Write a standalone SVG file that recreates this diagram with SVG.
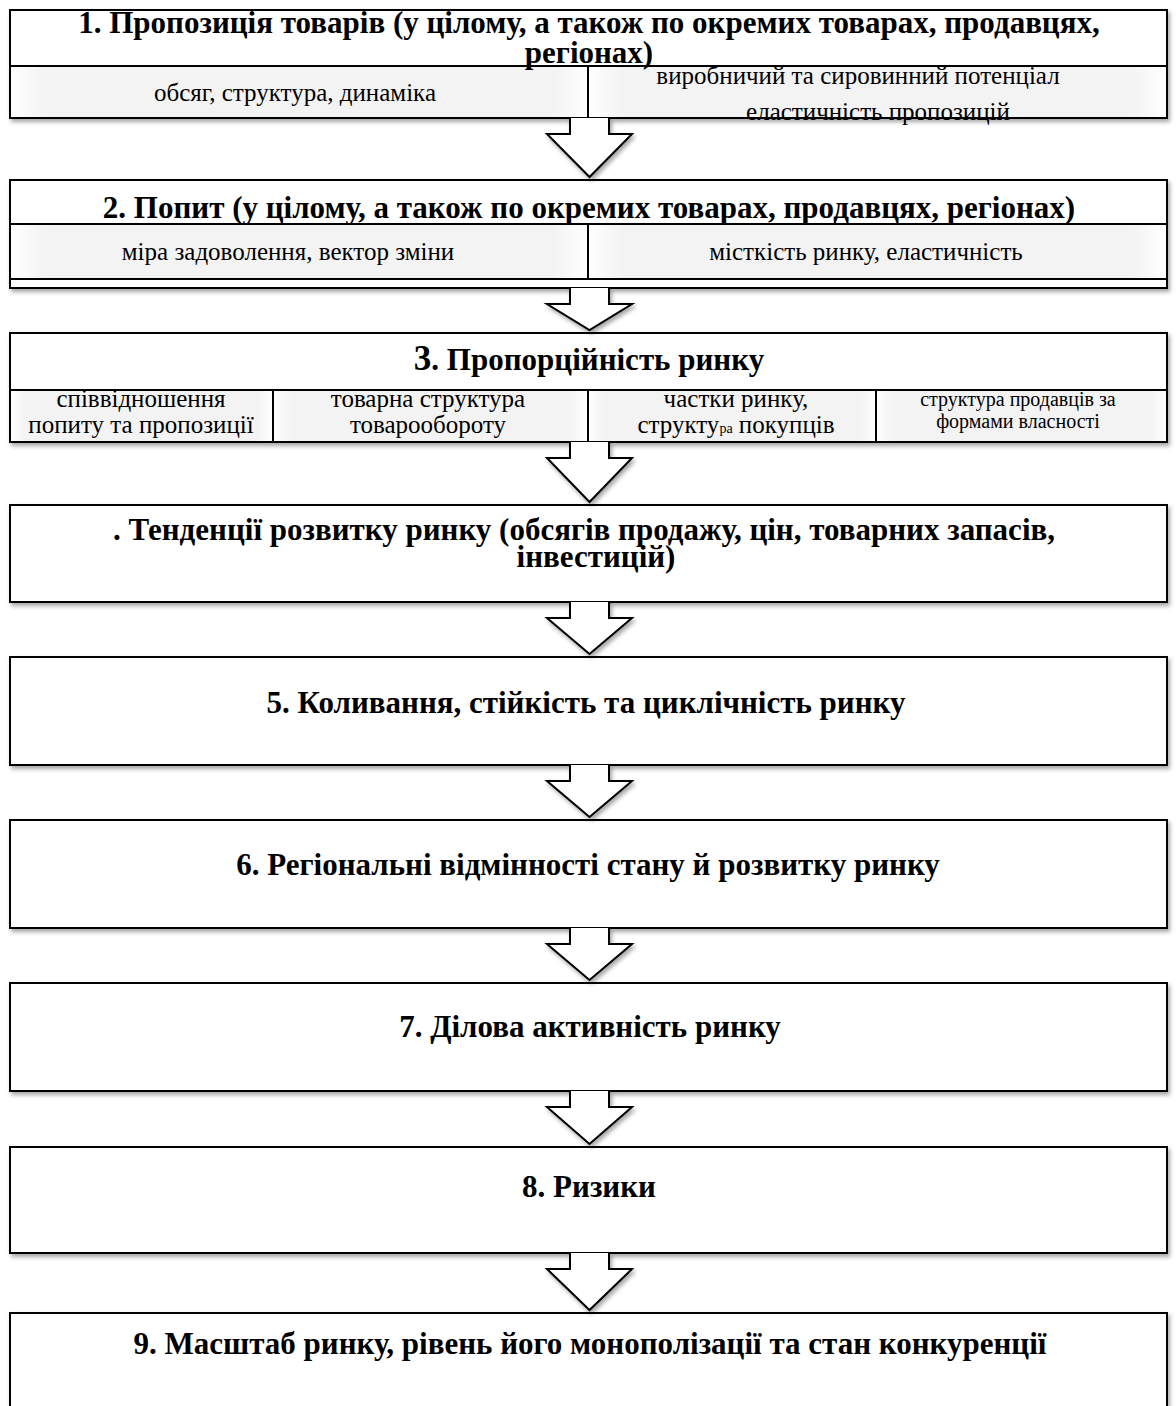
<svg xmlns="http://www.w3.org/2000/svg" width="1176" height="1406" viewBox="0 0 1176 1406">
<defs>
<filter id="sh" x="-5%" y="-20%" width="110%" height="150%">
<feDropShadow dx="2" dy="3" stdDeviation="2" flood-color="#000" flood-opacity="0.35"/>
</filter>
<linearGradient id="cell" x1="0" y1="0" x2="1" y2="0">
<stop offset="0" stop-color="#ffffff"/>
<stop offset="0.06" stop-color="#f3f3f3"/>
<stop offset="0.94" stop-color="#f3f3f3"/>
<stop offset="1" stop-color="#ffffff"/>
</linearGradient>
</defs>
<style>
.box{fill:#fff;stroke:#000;stroke-width:2}
.cell{fill:url(#cell);stroke:#000;stroke-width:2}
.h{font-family:"Liberation Serif","Times New Roman",serif;font-weight:bold;font-size:31px;fill:#000;text-anchor:middle}
.s{font-family:"Liberation Serif","Times New Roman",serif;font-size:25px;fill:#000;text-anchor:middle}
.s2{font-family:"Liberation Serif","Times New Roman",serif;font-size:20px;fill:#000;text-anchor:middle}
.arr{fill:#fff;stroke:#000;stroke-width:2;stroke-linejoin:miter}
</style>
<rect width="1176" height="1406" fill="#fff"/>

<g id="node1">
<rect class="box" x="10" y="10" width="1157" height="108" filter="url(#sh)"/>
<rect class="cell" x="10" y="66" width="578" height="52"/>
<rect class="cell" x="588" y="66" width="579" height="52"/>
<text class="h" x="589" y="33">1. Пропозиція товарів (у цілому, а також по окремих товарах, продавцях,</text>
<text class="h" x="589" y="63">регіонах)</text>
<text class="s" x="295" y="101">обсяг, структура, динаміка</text>
<text class="s" x="858" y="84" font-size="23">виробничий та сировинний потенціал</text>
<text class="s" x="878" y="120">еластичність пропозицій</text>
</g>

<g id="node2">
<rect class="box" x="10" y="180" width="1157" height="108" filter="url(#sh)"/>
<rect class="cell" x="10" y="224" width="578" height="55"/>
<rect class="cell" x="588" y="224" width="579" height="55"/>
<text class="h" x="589" y="218">2. Попит (у цілому, а також по окремих товарах, продавцях, регіонах)</text>
<text class="s" x="288" y="260">міра задоволення, вектор зміни</text>
<text class="s" x="866" y="260">місткість ринку, еластичність</text>
</g>

<g id="node3">
<rect class="box" x="10" y="333" width="1157" height="109" filter="url(#sh)"/>
<rect class="cell" x="10" y="390" width="263" height="52"/>
<rect class="cell" x="273" y="390" width="315" height="52"/>
<rect class="cell" x="588" y="390" width="288" height="52"/>
<rect class="cell" x="876" y="390" width="291" height="52"/>
<text class="h" x="589" y="370"><tspan font-size="35">3</tspan>. Пропорційність ринку</text>
<text class="s" x="141" y="407">співвідношення</text>
<text class="s" x="141" y="433">попиту та пропозиції</text>
<text class="s" x="428" y="407">товарна структура</text>
<text class="s" x="428" y="433">товарообороту</text>
<text class="s" x="736" y="407">частки ринку,</text>
<text class="s" x="736" y="433">структу<tspan font-size="14">ра</tspan> покупців</text>
<text class="s2" x="1018" y="406">структура продавців за</text>
<text class="s2" x="1018" y="428">формами власності</text>
</g>

<g id="node4">
<rect class="box" x="10" y="505" width="1157" height="97" filter="url(#sh)"/>
<text class="h" x="584" y="540">. Тенденції розвитку ринку (обсягів продажу, цін, товарних запасів,</text>
<text class="h" x="596" y="567">інвестицій)</text>
</g>

<g id="node5">
<rect class="box" x="10" y="657" width="1157" height="108" filter="url(#sh)"/>
<text class="h" x="586" y="713">5. Коливання, стійкість та циклічність ринку</text>
</g>

<g id="node6">
<rect class="box" x="10" y="820" width="1157" height="108" filter="url(#sh)"/>
<text class="h" x="588" y="875">6. Регіональні відмінності стану й розвитку ринку</text>
</g>

<g id="node7">
<rect class="box" x="10" y="983" width="1157" height="108" filter="url(#sh)"/>
<text class="h" x="590" y="1037">7. Ділова активність ринку</text>
</g>

<g id="node8">
<rect class="box" x="10" y="1147" width="1157" height="106" filter="url(#sh)"/>
<text class="h" x="589" y="1197">8. Ризики</text>
</g>

<g id="node9">
<rect class="box" x="10" y="1313" width="1157" height="110" filter="url(#sh)"/>
<text class="h" x="590" y="1354">9. Масштаб ринку, рівень його монополізації та стан конкуренції</text>
</g>

<g id="connectors">
<path class="arr" filter="url(#sh)" d="M570,118 V134 H547 L589.5,177 L632,134 H609 V118"/>
<path class="arr" filter="url(#sh)" d="M570,288 V304 H547 L589.5,330 L632,304 H609 V288"/>
<path class="arr" filter="url(#sh)" d="M570,442 V458 H547 L589.5,502 L632,458 H609 V442"/>
<path class="arr" filter="url(#sh)" d="M570,602 V618 H547 L589.5,654 L632,618 H609 V602"/>
<path class="arr" filter="url(#sh)" d="M570,765 V781 H547 L589.5,817 L632,781 H609 V765"/>
<path class="arr" filter="url(#sh)" d="M570,928 V944 H547 L589.5,980 L632,944 H609 V928"/>
<path class="arr" filter="url(#sh)" d="M570,1091 V1107 H547 L589.5,1144 L632,1107 H609 V1091"/>
<path class="arr" filter="url(#sh)" d="M570,1253 V1269 H547 L589.5,1310 L632,1269 H609 V1253"/>
</g>
</svg>
